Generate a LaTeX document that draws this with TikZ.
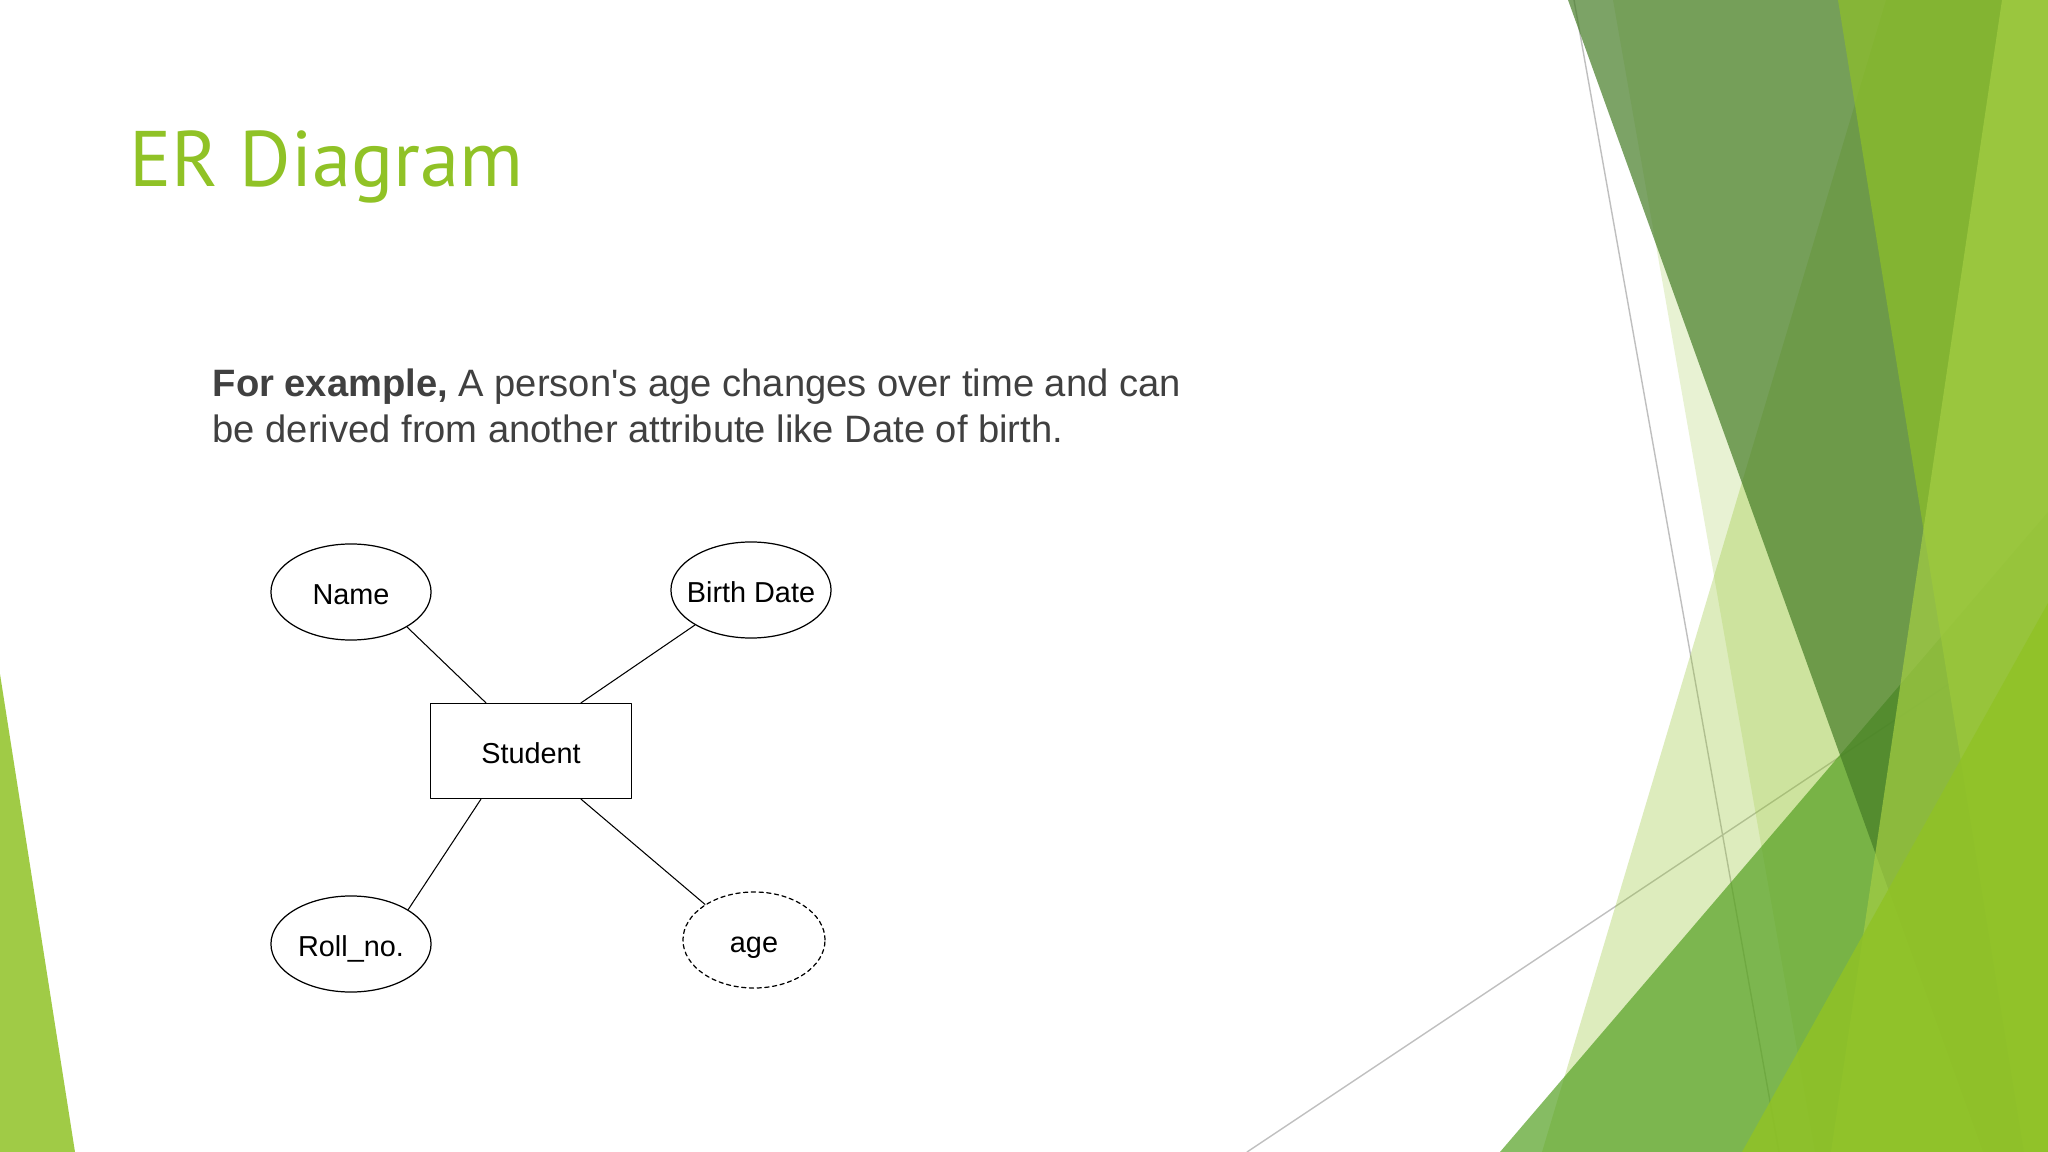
\documentclass[tikz,border=0pt]{standalone}
\usepackage{fontspec}
\setmainfont{Liberation Sans}
\newfontfamily\titlefont{PT Sans}
\usetikzlibrary{shapes.geometric}
\definecolor{facet}{HTML}{90C226}
\definecolor{facetdark}{HTML}{54A021}
\definecolor{facetshade}{HTML}{457C26}
\definecolor{facetlight}{HTML}{A4CE44}
\definecolor{linegray}{HTML}{BFBFBF}
\definecolor{textgray}{HTML}{404040}
\begin{document}
\begin{tikzpicture}[x=0.01cm,y=-0.01cm, line join=round, line cap=round,
	entity/.style={draw, rectangle, line width=0.35pt, minimum width=2.01cm, minimum height=0.95cm, text height=0.72em, text depth=0pt, font=\fontsize{8.2}{10}\selectfont},
	attr/.style={draw, ellipse, line width=0.35pt, minimum width=1.6cm, minimum height=0.96cm, inner xsep=-1mm, text height=0.72em, text depth=0pt, font=\fontsize{8.2}{10}\selectfont},
	derived/.style={attr, dashed, dash pattern=on 1.2pt off 1pt, minimum width=1.42cm},
	link/.style={line width=0.3pt}]
	\useasboundingbox (0,0) rectangle (2048,1152);
	\fill[white] (0,0) rectangle (2048,1152);
	% facet background
	\draw[linegray, line width=0.4pt] (1574,0)--(1779,1152);
	\draw[linegray, line width=0.4pt] (1247,1152)--(2048,618);
	\fill[facet, opacity=0.3] (1886,0)--(2048,0)--(2048,1152)--(1542,1152)--cycle;
	\fill[facet, opacity=0.2] (1613,0)--(2048,0)--(2048,1152)--(1815,1152)--cycle;
	\fill[facetdark, opacity=0.7] (2048,512)--(1500,1152)--(2048,1152)--cycle;
	\fill[facetshade, opacity=0.7] (1568,0)--(2048,0)--(2048,1152)--(1983,1152)--cycle;
	\fill[facet, opacity=0.65] (1838,0)--(2048,0)--(2048,1152)--(2024,1152)--cycle;
	\fill[facetlight, opacity=0.7] (2002,0)--(2048,0)--(2048,1152)--(1831,1152)--cycle;
	\fill[facet, opacity=0.85] (2048,603)--(1742,1152)--(2048,1152)--cycle;
	\fill[facet, opacity=0.85] (0,674)--(75,1152)--(0,1152)--cycle;
	% text
	\node[anchor=base west, inner sep=0pt, text=facet, font=\titlefont\fontsize{22.4}{27}\selectfont] (title) at (129,187) {ER Diagram};
	\node[anchor=base west, inner sep=0pt, text=textgray, font=\fontsize{10.85}{13}\selectfont] (line1) at (212,397) {\textbf{For example,} A person\textquotesingle s age changes over time and can};
	\node[anchor=base west, inner sep=0pt, text=textgray, font=\fontsize{10.85}{13}\selectfont] (line2) at (212,443) {be derived from another attribute like Date of birth.};
	% er diagram
	\node[entity] (student) at (531,751) {Student};
	\node[attr] (name) at (351,592) {Name};
	\node[attr] (birth) at (751,590) {Birth Date};
	\node[attr] (roll) at (351,944) {Roll\_no.};
	\node[derived] (age) at (754,940) {age};
	\draw[link] (name.-32)--([xshift=-4.5mm]student.north);
	\draw[link] (birth.-148)--([xshift=5mm]student.north);
	\draw[link] (roll.31)--([xshift=-5mm]student.south);
	\draw[link] (age.144)--([xshift=5mm]student.south);
\end{tikzpicture}
\end{document}
